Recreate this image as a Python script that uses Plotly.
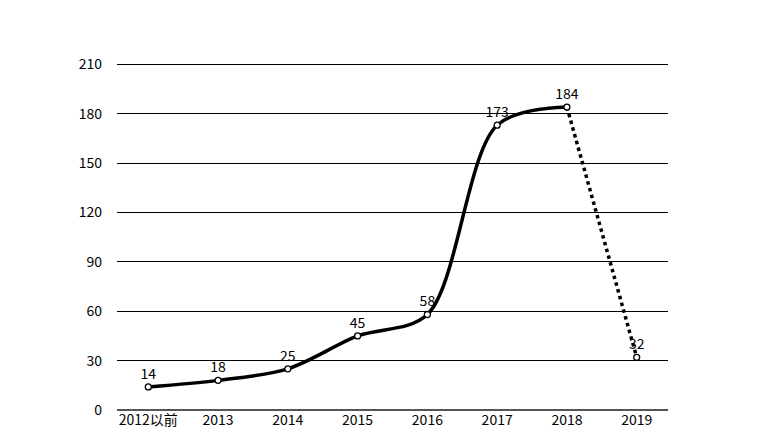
import plotly.graph_objects as go

categories = ['2012以前', '2013', '2014', '2015', '2016', '2017', '2018', '2019']
solid_values = [14, 18, 25, 45, 58, 173, 184]
dotted_cats = ['2018', '2019']
dotted_values = [184, 32]
y_ticks = [0, 30, 60, 90, 120, 150, 180, 210]

font_family = 'Noto Sans CJK SC, Noto Sans, sans-serif'

fig = go.Figure()

# solid smoothed part up to 2018
fig.add_trace(go.Scatter(
    x=categories[:7], y=solid_values,
    mode='lines', line=dict(color='black', width=3.5, shape='spline', smoothing=0.9),
    hoverinfo='skip', showlegend=False))

# dotted drop to 2019
fig.add_trace(go.Scatter(
    x=dotted_cats, y=dotted_values,
    mode='lines', line=dict(color='black', width=3.5, dash='dot'),
    hoverinfo='skip', showlegend=False))

# markers + labels
all_values = solid_values + [dotted_values[-1]]
fig.add_trace(go.Scatter(
    x=categories, y=all_values,
    mode='markers+text', text=[str(v) for v in all_values],
    textposition='top center', textfont=dict(size=14, color='black', family=font_family),
    marker=dict(size=6, color='white', line=dict(color='black', width=1.3)),
    showlegend=False))

fig.update_layout(
    width=784, height=441,
    margin=dict(l=109, r=124, t=53, b=39),
    paper_bgcolor='white', plot_bgcolor='white',
    font=dict(family=font_family, size=14, color='black'),
    xaxis=dict(type='category', categoryorder='array', categoryarray=categories,
               showgrid=False, showline=False, zeroline=False, ticks='',
               tickfont=dict(size=14)),
    yaxis=dict(range=[0, 212], tickvals=y_ticks, showgrid=True, gridcolor='black',
               gridwidth=1, zeroline=True, zerolinecolor='#555555', zerolinewidth=2,
               showline=False, ticks='', tickfont=dict(size=14), ticklabelstandoff=14),
)

fig.write_html('out.html')
